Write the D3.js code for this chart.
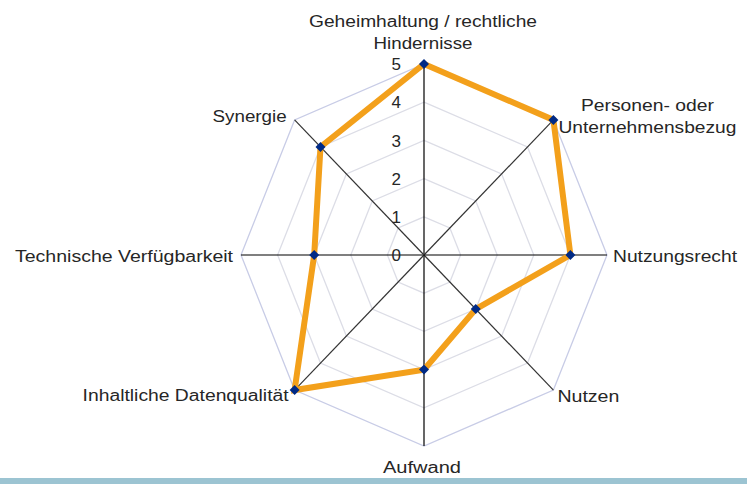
<!DOCTYPE html>
<html>
<head>
<meta charset="utf-8">
<script src="https://cdn.jsdelivr.net/npm/d3@7"></script>
<style>
  body { margin: 0; background: #fff; }
  svg { display: block; }
  text { font-family: "Liberation Sans", Arial, sans-serif; fill: #262626; }
</style>
</head>
<body>
<div id="viz"></div>
<script>
// axis labels, clockwise from the top
var axisLabels = [
  ["Geheimhaltung / rechtliche", "Hindernisse"],
  ["Personen- oder", "Unternehmensbezug"],
  ["Nutzungsrecht"],
  ["Nutzen"],
  ["Aufwand"],
  ["Inhaltliche Datenqualität"],
  ["Technische Verfügbarkeit"],
  ["Synergie"]
];
var scores = [5, 5, 4, 2, 3, 5, 3, 4];
var ticks = [0, 1, 2, 3, 4, 5];

var width = 747, height = 484;
var cx = 424, cy = 255;
var rx = 183, ry = 191; // picture is a bit taller than wide

var svg = d3.select('#viz').append('svg')
  .attr('width', width).attr('height', height);

var r = d3.scaleLinear().domain([0, 5]).range([0, 1]);
var n = axisLabels.length;
var angle = d3.scaleLinear().domain([0, n]).range([0, 2 * Math.PI]);

function pt(i, v) {
  var a = angle(i);
  return [cx + Math.sin(a) * rx * r(v), cy - Math.cos(a) * ry * r(v)];
}

// grid rings
var ring = d3.line();
svg.append('g').selectAll('path')
  .data(ticks.slice(1))
  .enter().append('path')
  .attr('d', function(t) {
    var p = d3.range(n).map(function(i) { return pt(i, t); });
    return ring(p) + 'Z';
  })
  .attr('fill', 'none')
  .attr('stroke', function(t) { return t === 5 ? '#c8cce6' : '#dcdde6'; })
  .attr('stroke-width', 1.3);

// spokes
svg.append('g').selectAll('line')
  .data(d3.range(n))
  .enter().append('line')
  .attr('x1', cx).attr('y1', cy)
  .attr('x2', function(i) { return pt(i, 5)[0]; })
  .attr('y2', function(i) { return pt(i, 5)[1]; })
  .attr('stroke', function(i) { return i % 2 ? '#333' : '#000'; })
  .attr('stroke-width', 1.2);

// tick numbers along the top spoke
svg.append('g').selectAll('text')
  .data(ticks)
  .enter().append('text')
  .attr('x', cx - 23)
  .attr('y', function(t) { return pt(0, t)[1]; })
  .attr('dy', '0.36em')
  .attr('text-anchor', 'end')
  .attr('font-size', 17)
  .text(function(t) { return t; });

// data line
var poly = scores.map(function(v, i) { return pt(i, v); });
svg.append('path')
  .attr('d', d3.line()(poly) + 'Z')
  .attr('fill', 'none')
  .attr('stroke', '#f3a01b')
  .attr('stroke-width', 6)
  .attr('stroke-linejoin', 'miter');

svg.append('g').selectAll('path')
  .data(poly)
  .enter().append('path')
  .attr('d', 'M0,-5L5,0L0,5L-5,0Z')
  .attr('transform', function(p) { return 'translate(' + p[0] + ',' + p[1] + ')'; })
  .attr('fill', '#002a86');

// category labels
var labelPos = [
  { dx: -1, dy: -37, anchor: 'middle' },
  { dx: 94, dy: -9, anchor: 'middle' },
  { dx: 6, dy: 7, anchor: 'start' },
  { dx: 4, dy: 12, anchor: 'start' },
  { dx: -2, dy: 27, anchor: 'middle' },
  { dx: -6, dy: 11, anchor: 'end' },
  { dx: -8, dy: 7, anchor: 'end' },
  { dx: -8, dy: 2, anchor: 'end' }
];
var labelFit = [[228, 99], [133, 178], [124], [62], [78], [206], [218], [74]];

svg.append('g').selectAll('text')
  .data(axisLabels)
  .enter().append('text')
  .attr('font-size', 16)
  .attr('text-anchor', function(d, i) { return labelPos[i].anchor; })
  .each(function(lines, i) {
    var e = pt(i, 5);
    var t = d3.select(this);
    lines.forEach(function(s, k) {
      t.append('tspan')
        .attr('x', e[0] + labelPos[i].dx)
        .attr('y', e[1] + labelPos[i].dy + k * 22)
        .attr('textLength', labelFit[i][k])
        .attr('lengthAdjust', 'spacingAndGlyphs')
        .text(s);
    });
  });

// strip at the bottom edge
svg.append('rect')
  .attr('x', 0).attr('y', 478)
  .attr('width', width).attr('height', 6)
  .attr('fill', '#9cc4d2');
</script>
</body>
</html>
